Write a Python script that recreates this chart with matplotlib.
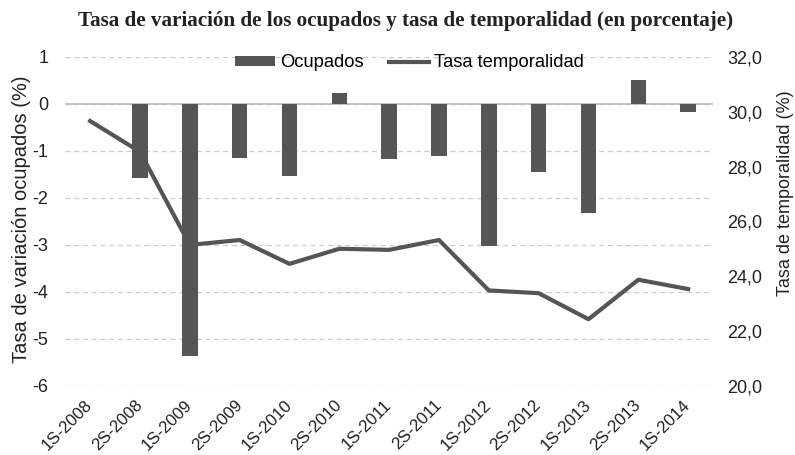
import matplotlib
matplotlib.use('Agg')
import matplotlib.pyplot as plt
import numpy as np

plt.rcParams['font.family'] = ['Liberation Sans', 'DejaVu Sans']
plt.rcParams['axes.unicode_minus'] = False

periodos = ['1S-2008', '2S-2008', '1S-2009', '2S-2009', '1S-2010', '2S-2010', '1S-2011',
            '2S-2011', '1S-2012', '2S-2012', '1S-2013', '2S-2013', '1S-2014']
# tasa de variacion de los ocupados (%), eje izquierdo
ocupados = [np.nan, -1.58, -5.37, -1.16, -1.53, 0.24, -1.18,
            -1.10, -3.03, -1.45, -2.32, 0.51, -0.18]
# tasa de temporalidad (%), eje derecho
temporalidad = [29.66, 28.54, 25.14, 25.32, 24.45, 25.00, 24.96,
                25.32, 23.48, 23.38, 22.43, 23.87, 23.53]

gris = '#555555'
texto = '#222222'
x = np.arange(len(periodos))

fig = plt.figure(figsize=(7.95, 4.55), dpi=100)
ax = fig.add_axes([0.082, 0.152, 0.815, 0.723])
ax2 = ax.twinx()

bars = ax.bar(x, ocupados, width=0.31, color=gris, label='Ocupados', zorder=3)
ax.set_ylim(-6, 1)
ax.set_yticks(range(-6, 2))
ax.set_xlim(-0.5, len(periodos) - 0.5)
ax.grid(axis='y', ls=(0, (4, 3)), color='#cccccc', lw=0.9, zorder=0)
ax.axhline(0, color='#bbbbbb', lw=1.2, zorder=2)
ax.set_axisbelow(True)

line, = ax2.plot(x, temporalidad, color=gris, lw=3, label='Tasa temporalidad', zorder=4)
ax2.set_ylim(20, 32)
ax2.set_yticks(range(20, 33, 2))
ax2.set_yticklabels(['%d,0' % v for v in range(20, 33, 2)])

for a in (ax, ax2):
    for s in a.spines.values():
        s.set_visible(False)
    a.tick_params(length=0, labelsize=13, colors=texto)

ax.set_xticks(x)
ax.set_xticklabels(periodos, rotation=45, ha='right', va='center', rotation_mode='anchor', fontsize=12.2)
ax.tick_params(axis='x', pad=12)
ax.tick_params(axis='y', pad=12)
ax2.tick_params(axis='y', pad=10)

ax.set_ylabel('Tasa de variación ocupados (%)', fontsize=14.5, color=texto)
ax.yaxis.set_label_coords(-0.053, 0.505)
ax2.set_ylabel('Tasa de temporalidad (%)', fontsize=13, color=texto)
ax2.yaxis.set_label_coords(1.099, 0.585)

ax2.legend([bars, line], ['Ocupados', 'Tasa temporalidad'], loc='center',
           bbox_to_anchor=(0.531, 0.982), ncol=2, frameon=False, fontsize=13.2,
           handlelength=2.2, handleheight=0.45, handletextpad=0.25, columnspacing=1.4,
           borderpad=0, borderaxespad=0)

fig.text(0.51, 0.953, 'Tasa de variación de los ocupados y tasa de temporalidad (en porcentaje)',
         ha='center', va='center', family=['Liberation Serif', 'DejaVu Serif'],
         fontweight='bold', fontsize=15.2, color=texto)

fig.savefig('out.png', dpi=100)
